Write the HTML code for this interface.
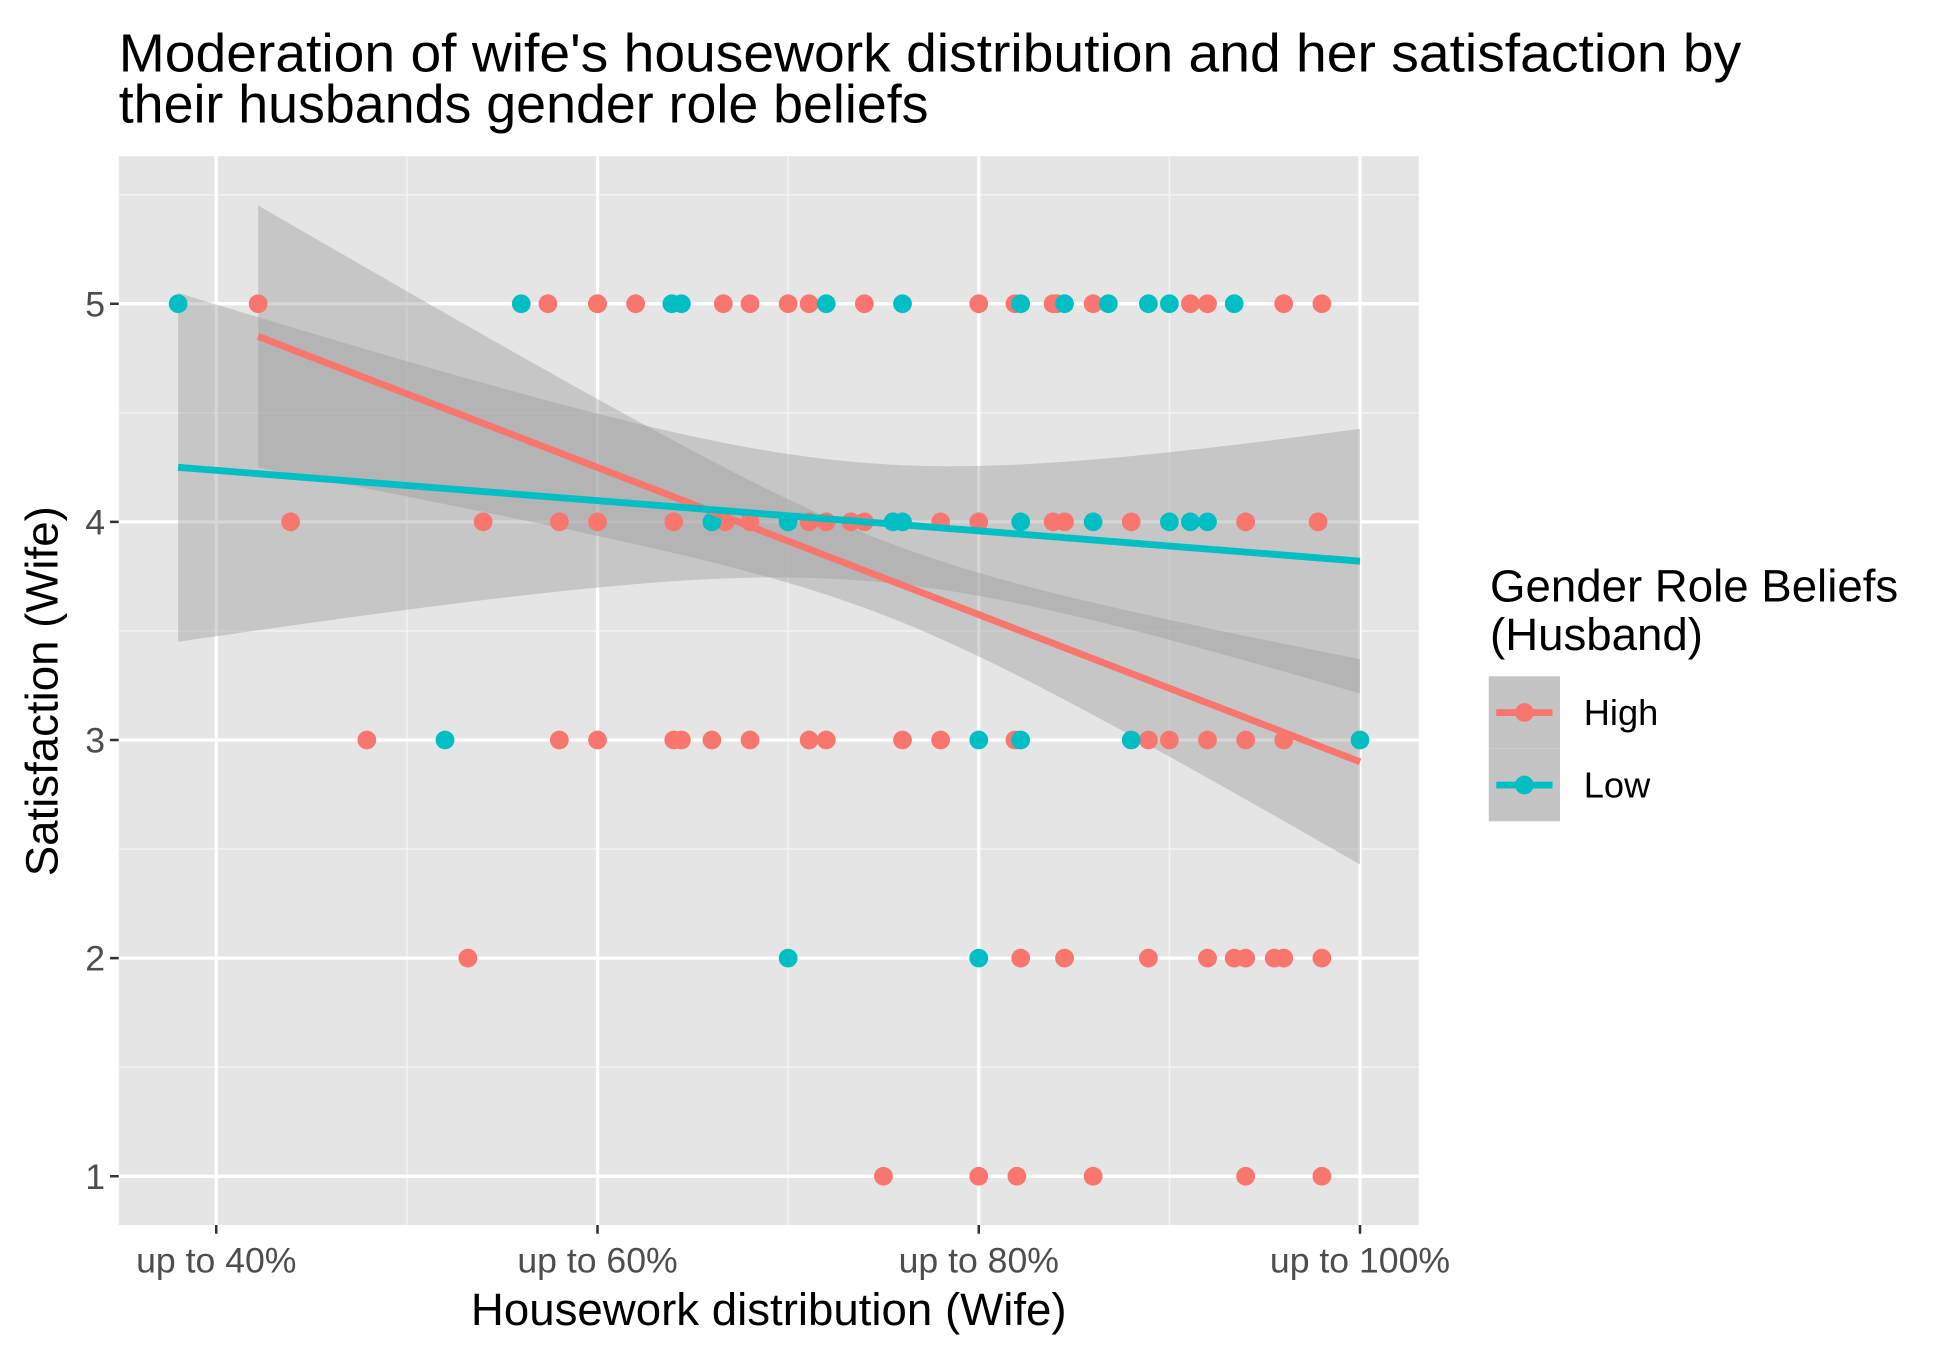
<!DOCTYPE html>
<html><head><meta charset="utf-8"><style>html,body{margin:0;padding:0;background:#fff}svg{display:block;font-family:"Liberation Sans",Arial,sans-serif}</style></head>
<body>
<svg id="chart" width="1950" height="1350" viewBox="0 0 1560 1080" xmlns="http://www.w3.org/2000/svg">
<rect width="1560" height="1080" fill="#fff"/>
<text x="95" y="57" font-size="43" fill="#000" textLength="1298" lengthAdjust="spacingAndGlyphs">Moderation of wife's housework distribution and her satisfaction by</text>
<text x="95" y="98" font-size="43" fill="#000">their husbands gender role beliefs</text>
<rect x="95" y="125" width="1040" height="855" fill="#e5e5e5"/>
<g id="grid"></g><g id="ribbons"></g><g id="points"></g><g id="lines"></g><g id="axes"></g>
<text x="615" y="1060" font-size="36.5" text-anchor="middle">Housework distribution (Wife)</text>
<text transform="translate(46,553) rotate(-90)" font-size="36.5" text-anchor="middle">Satisfaction (Wife)</text>
<g>
<text x="1192" y="481" font-size="36.5">Gender Role Beliefs</text>
<text x="1192" y="520" font-size="36.5">(Husband)</text>
<rect x="1191" y="541" width="57" height="58" fill="#c4c4c4"/>
<rect x="1191" y="599" width="57" height="58" fill="#c4c4c4"/>
<line x1="1197" y1="570" x2="1242" y2="570" stroke="#F8766D" stroke-width="5.5"/><circle cx="1219.5" cy="570" r="7.5" fill="#F8766D"/>
<line x1="1197" y1="628" x2="1242" y2="628" stroke="#00BFC4" stroke-width="5.5"/><circle cx="1219.5" cy="628" r="7.5" fill="#00BFC4"/>
<text x="1267" y="580" font-size="29">High</text>
<text x="1267" y="638" font-size="29">Low</text>
</g>
</svg>
<script>
const xTicks=[40,60,80,100];
const xTickLabels=["up to 40%","up to 60%","up to 80%","up to 100%"];
const yTicks=[1,2,3,4,5];
const highX=[42.2,57.4,60,60,62,66.6,68,70,71.1,74,80,81.9,83.9,84.1,86,91.1,92,96,98,
 43.9,54,58,60,64,66.7,68,71.1,72,73.3,74,78,80,83.9,84.5,88,94,97.8,
 47.9,58,60,64,64.4,66,68,71.1,72,76,78,81.9,88.9,90,92,94,96,
 53.2,82.2,84.5,88.9,92,93.4,94,95.5,96,98,
 75,80,82,86,94,98];
const highY=[5,5,5,5,5,5,5,5,5,5,5,5,5,5,5,5,5,5,5,
 4,4,4,4,4,4,4,4,4,4,4,4,4,4,4,4,4,4,
 3,3,3,3,3,3,3,3,3,3,3,3,3,3,3,3,3,
 2,2,2,2,2,2,2,2,2,2,
 1,1,1,1,1,1];
const lowX=[38,56,63.9,64.4,72,76,82.2,84.5,86.8,88.9,90,93.4,
 66,70,75.5,76,82.2,86,90,91.1,92,
 52,80,82.2,88,100,
 70,80];
const lowY=[5,5,5,5,5,5,5,5,5,5,5,5,
 4,4,4,4,4,4,4,4,4,
 3,3,3,3,3,
 2,2];
const highFit=[42.2,4.85,100,2.9];
const lowFit=[38,4.25,100,3.82];
const highBand=[75,0.029,3.08e-4];
const lowBand=[74,0.073,4.37e-4];

const NS="http://www.w3.org/2000/svg";
const X=v=>173+(v-40)*15.25;
const Y=v=>941-(v-1)*174.5;
function mk(tag,attrs,parent){const e=document.createElementNS(NS,tag);for(const k in attrs)e.setAttribute(k,attrs[k]);document.getElementById(parent).appendChild(e);return e;}
[50,70,90].forEach(v=>{const l=mk('line',{x1:X(v),x2:X(v),y1:125,y2:980,stroke:'#f2f2f2','stroke-width':1.3},'grid');

});
[1.5,2.5,3.5,4.5,5.5].forEach(v=>{const l=mk('line',{x1:95,x2:1135,y1:Y(v),y2:Y(v),stroke:'#f2f2f2','stroke-width':1.3},'grid');

});
xTicks.forEach((v,i)=>{const l=mk('line',{x1:X(v),x2:X(v),y1:125,y2:980,stroke:'#fff','stroke-width':2.6},'grid');


mk('line',{x1:X(v),x2:X(v),y1:980,y2:987,stroke:'#333','stroke-width':2},'axes');
const t=mk('text',{x:X(v),y:1018,'font-size':28.5,fill:'#4d4d4d','text-anchor':'middle'},'axes');t.textContent=xTickLabels[i];

});
yTicks.forEach(v=>{const l=mk('line',{x1:95,x2:1135,y1:Y(v),y2:Y(v),stroke:'#fff','stroke-width':2.6},'grid');


mk('line',{x1:88,x2:95,y1:Y(v),y2:Y(v),stroke:'#333','stroke-width':2},'axes');
const t=mk('text',{x:84,y:Y(v)+10,'font-size':28.5,fill:'#4d4d4d','text-anchor':'end'},'axes');t.textContent=v;

});
function ribbon(fit,band,name){const [x0,y0,x1,y1]=fit,[xm,c0,c1]=band;const up=[],lo=[];
for(let i=0;i<=60;i++){const x=x0+(x1-x0)*i/60;const y=y0+(y1-y0)*(x-x0)/(x1-x0);const h=Math.sqrt(c0+c1*(x-xm)*(x-xm));up.push(X(x)+','+Y(y+h));lo.unshift(X(x)+','+Y(y-h));}
const p=mk('polygon',{points:up.concat(lo).join(' '),fill:'#999','fill-opacity':0.4},'ribbons');

}
ribbon(highFit,highBand,'ribbon-high');
ribbon(lowFit,lowBand,'ribbon-low');
function pts(xs,ys,col,name){xs.forEach((x,i)=>{const c=mk('circle',{cx:X(x),cy:Y(ys[i]),r:7.5,fill:col},'points');

});}
pts(highX,highY,'#F8766D','point-high');
pts(lowX,lowY,'#00BFC4','point-low');
function fitLine(f,col,name){const l=mk('line',{x1:X(f[0]),y1:Y(f[1]),x2:X(f[2]),y2:Y(f[3]),stroke:col,'stroke-width':5.5},'lines');

}
fitLine(highFit,'#F8766D','fit-line-high');
fitLine(lowFit,'#00BFC4','fit-line-low');
</script>
</body></html>
